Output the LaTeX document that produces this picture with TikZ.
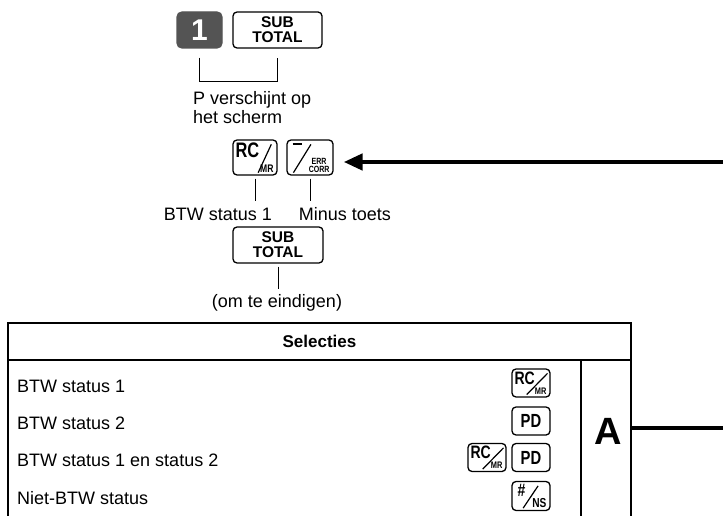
\documentclass[tikz,border=0pt]{standalone}
\usepackage{fontspec}
\setmainfont{Liberation Sans}
\newfontfamily\narrowfont[FakeStretch=0.78]{Liberation Sans}
\usetikzlibrary{arrows.meta,calc,positioning}

% key with a slash: name, position, style, top text, bottom text, slash foot, slash head
\newcommand{\slkey}[7]{%
    \node[#3] (#1) at (#2) {};
    \node[keytop] (#1-t) at ([shift={(3,-3)}]#1.north west) {#4};
    \node[keybot] (#1-b) at ([shift={(-4,3)}]#1.south east) {#5};
    \draw[line width=1.2pt] ($(#1.south west)!#6!(#1.south east)+(0,3)$) -- ($(#1.north west)!#7!(#1.north east)+(0,-5)$);
}

\begin{document}
\begin{tikzpicture}[x=1pt, y=1pt,
    keybox/.style={draw, rounded corners=4pt, line width=1.3pt, inner sep=0pt},
    bigkey/.style={keybox, minimum width=44pt, minimum height=35pt},
    smallkey/.style={keybox, minimum width=38pt, minimum height=28pt},
    subkey/.style={keybox, minimum width=89pt, minimum height=36pt, align=center,
        font=\bfseries\fontsize{15.5}{15}\selectfont},
    keytop/.style={anchor=north west, inner sep=0pt, font=\narrowfont\bfseries},
    keybot/.style={anchor=south east, inner sep=0pt, align=center,
        font=\narrowfont\bfseries\fontsize{9}{8}\selectfont},
    lbl/.style={font=\fontsize{18}{19}\selectfont, inner sep=0pt},
    tick/.style={line width=1pt},
    thickline/.style={line width=4.5pt},
    grid/.style={line width=1.5pt}]

    \useasboundingbox (0,0) rectangle (723,515);

    % preset keys
    \node[keybox, rounded corners=5pt, fill=black!67, draw=black!67, minimum width=45pt,
        minimum height=36pt, text=white, font=\bfseries\fontsize{30}{30}\selectfont] (one) at (199.5,485) {1};
    \node[subkey] (sub1) at (277.5,485) {SUB\\TOTAL};
    \draw[tick] ([yshift=-9]one.south) -- ++(0,-24) -| ([yshift=-9]sub1.south);
    \node[lbl, anchor=north west, align=left] (shown) at (193,424) {P verschijnt op\\het scherm};

    \slkey{rc}{255,357.5}{bigkey}{\fontsize{21}{21}\selectfont RC}{\fontsize{11}{11}\selectfont MR}{0.57}{0.86}
    \slkey{minus}{310,357.5}{bigkey, minimum width=46pt}{\hspace{3pt}\rule{9pt}{2pt}}{ERR\\CORR}{0.15}{0.52}
    \draw[tick] ([yshift=-3]rc.south) -- ++(0,-22);
    \draw[tick] ([yshift=-3]minus.south) -- ++(0,-22);
    \node[lbl] (status) at (218,301) {BTW status 1};
    \node[lbl] (minlbl) at (345,301) {Minus toets};

    \coordinate (eA) at (723,353);
    \draw[thickline, -{Triangle[length=19pt,width=16pt]}, shorten >=10pt] (eA) -- (eA -| minus.east);

    \node[subkey, minimum width=90pt] (sub2) at (278,270) {SUB\\TOTAL};
    \draw[tick] ([yshift=-3]sub2.south) -- ++(0,-22);
    \node[lbl] (ending) at (277,212) {(om te eindigen)};

    % selection table
    \draw[grid] (8,-2) |- (631,192) -- (631,-2);
    \draw[grid] (8,155) -- (631,155);
    \draw[grid] (581,155) -- (581,-2);
    \node[font=\bfseries\fontsize{17}{17}\selectfont] (sel) at (319.5,173.5) {Selecties};
    \foreach \txt [count=\i] in {BTW status 1, BTW status 2, BTW status 1 en status 2, Niet-BTW status}
        \node[lbl, anchor=west] (row\i) at (17,{129-37.3*(\i-1)}) {\txt};

    \slkey{rcB}{531,132}{smallkey}{\fontsize{18}{18}\selectfont RC}{\fontsize{9.5}{9.5}\selectfont MR}{0.39}{0.92}
    \node[smallkey, font=\narrowfont\bfseries\fontsize{19}{19}\selectfont] (pdA) at (531,94) {PD};
    \slkey{rcC}{487,57.5}{smallkey}{\fontsize{18}{18}\selectfont RC}{\fontsize{9.5}{9.5}\selectfont MR}{0.39}{0.92}
    \node[smallkey, font=\narrowfont\bfseries\fontsize{19}{19}\selectfont] (pdB) at (531,57.5) {PD};
    \slkey{ns}{531,19}{smallkey, minimum height=29pt}{\hspace{3pt}\fontsize{18}{18}\selectfont\#}{\fontsize{13}{13}\selectfont NS}{0.30}{0.68}

    \node[font=\bfseries\fontsize{38}{38}\selectfont] (selA) at (608,84) {A};
    \coordinate (tabR) at (632,87);
    \coordinate (eB) at (723,87);
    \draw[thickline] (tabR) -- (eB);
\end{tikzpicture}
\end{document}
